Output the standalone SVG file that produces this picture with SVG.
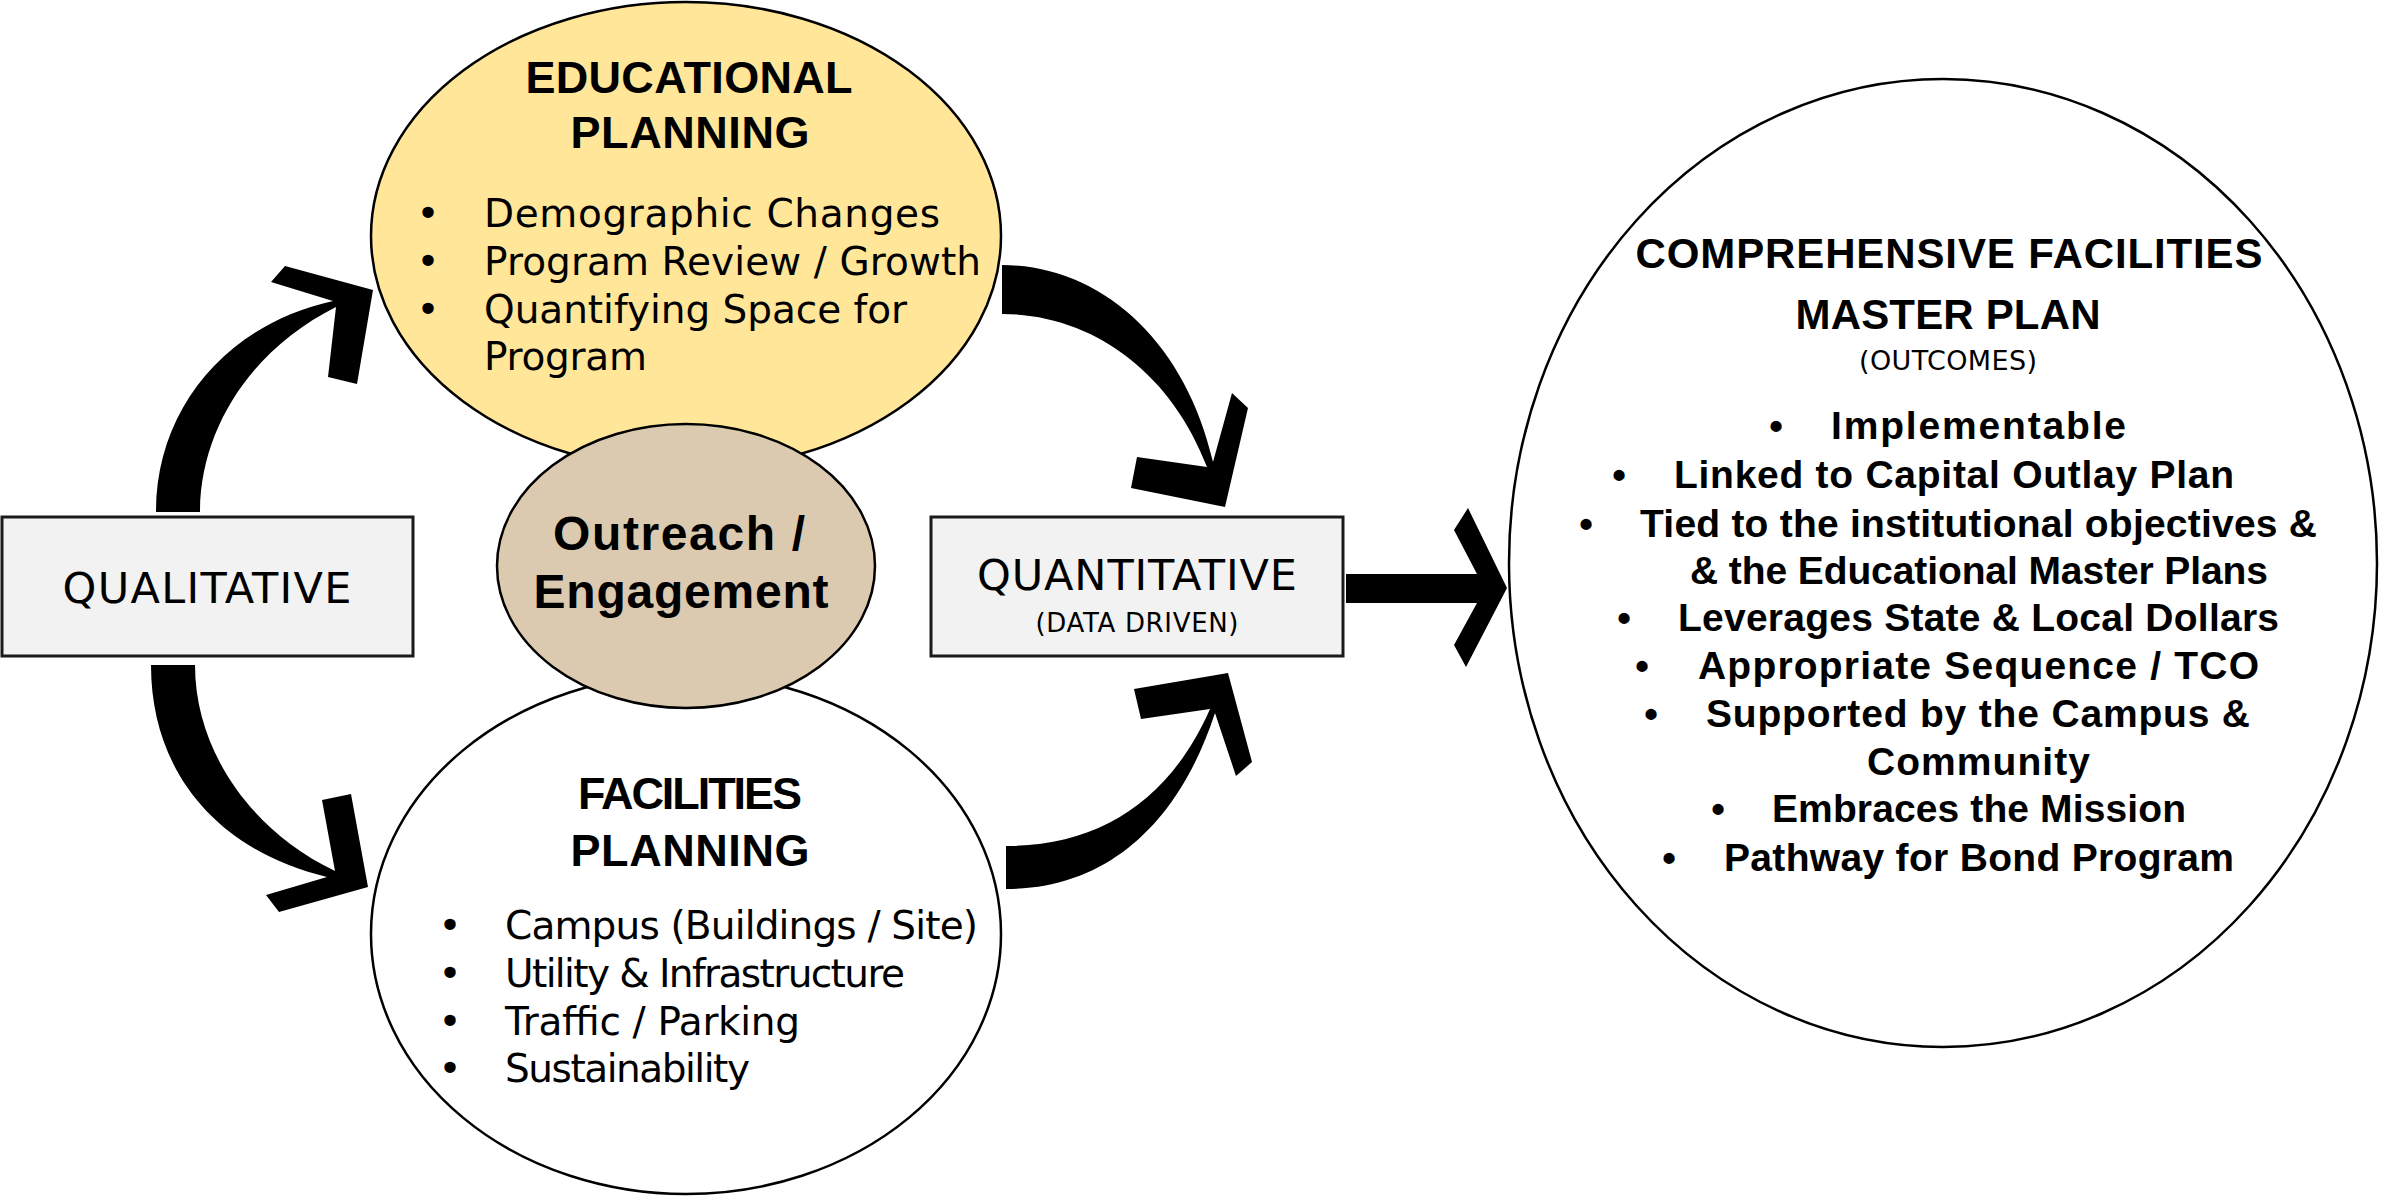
<svg xmlns="http://www.w3.org/2000/svg" width="2382" height="1196" viewBox="0 0 2382 1196">
<style>
.bg{fill:#ffffff}
.ell{stroke:#000;stroke-width:2.5}
.box{fill:#f2f2f2;stroke:#1a1a1a;stroke-width:3}
.reg{font-family:"DejaVu Sans","Liberation Sans",sans-serif;fill:#000}
.bold{font-family:"Liberation Sans",Arial,sans-serif;font-weight:bold;fill:#000}
.arrow{fill:#000;stroke:none}
</style>
<rect class="bg" x="0" y="0" width="2382" height="1196"/>

<g id="educational-planning">
<ellipse class="ell" cx="686" cy="236" rx="315" ry="234" fill="#ffe699"/>
<text class="bold" x="689" y="93" font-size="45" text-anchor="middle" textLength="327">EDUCATIONAL</text>
<text class="bold" x="690" y="148" font-size="45" text-anchor="middle" textLength="239">PLANNING</text>
<g class="reg" font-size="39">
<text x="428" y="227" text-anchor="middle">•</text>
<text x="484" y="227" textLength="456">Demographic Changes</text>
<text x="428" y="275" text-anchor="middle">•</text>
<text x="484" y="275" textLength="497">Program Review / Growth</text>
<text x="428" y="323" text-anchor="middle">•</text>
<text x="484" y="323" textLength="423">Quantifying Space for</text>
<text x="484" y="370" textLength="163">Program</text>
</g>
</g>

<g id="facilities-planning">
<ellipse class="ell" cx="686" cy="934" rx="315" ry="260" fill="#ffffff"/>
<text class="bold" x="690" y="809" font-size="45" text-anchor="middle" textLength="224">FACILITIES</text>
<text class="bold" x="690" y="866" font-size="45" text-anchor="middle" textLength="239">PLANNING</text>
<g class="reg" font-size="39">
<text x="450" y="939" text-anchor="middle">•</text>
<text x="505" y="939" textLength="473">Campus (Buildings / Site)</text>
<text x="450" y="987" text-anchor="middle">•</text>
<text x="505" y="987" textLength="400">Utility &amp; Infrastructure</text>
<text x="450" y="1035" text-anchor="middle">•</text>
<text x="505" y="1035" textLength="295">Traffic / Parking</text>
<text x="450" y="1082" text-anchor="middle">•</text>
<text x="505" y="1082" textLength="245">Sustainability</text>
</g>
</g>

<g id="outreach-engagement">
<ellipse class="ell" cx="686" cy="566" rx="189" ry="142" fill="#dbcab0"/>
<text class="bold" x="679" y="550" font-size="48" text-anchor="middle" textLength="252">Outreach /</text>
<text class="bold" x="681" y="608" font-size="48" text-anchor="middle" textLength="295">Engagement</text>
</g>

<g id="qualitative">
<rect class="box" x="2" y="517" width="411" height="139"/>
<text class="reg" x="207" y="603" font-size="43" text-anchor="middle" textLength="289">QUALITATIVE</text>
</g>

<g id="quantitative">
<rect class="box" x="931" y="517" width="412" height="139"/>
<text class="reg" x="1137" y="590" font-size="43" text-anchor="middle" textLength="320">QUANTITATIVE</text>
<text class="reg" x="1137" y="632" font-size="26" text-anchor="middle" textLength="203">(DATA DRIVEN)</text>
</g>

<g id="master-plan">
<ellipse class="ell" cx="1943" cy="563" rx="434" ry="484" fill="#ffffff"/>
<text class="bold" x="1949" y="268" font-size="42" text-anchor="middle" textLength="627">COMPREHENSIVE FACILITIES</text>
<text class="bold" x="1948" y="329" font-size="42" text-anchor="middle" textLength="305">MASTER PLAN</text>
<text class="reg" x="1948" y="370" font-size="27" text-anchor="middle" textLength="178">(OUTCOMES)</text>
<g class="bold" font-size="39">
<text x="1776" y="439" text-anchor="middle">•</text>
<text x="1831" y="439" textLength="295">Implementable</text>
<text x="1619" y="488" text-anchor="middle">•</text>
<text x="1674" y="488" textLength="560">Linked to Capital Outlay Plan</text>
<text x="1586" y="537" text-anchor="middle">•</text>
<text x="1640" y="537" textLength="677">Tied to the institutional objectives &amp;</text>
<text x="1690" y="584" textLength="578">&amp; the Educational Master Plans</text>
<text x="1624" y="631" text-anchor="middle">•</text>
<text x="1678" y="631" textLength="601">Leverages State &amp; Local Dollars</text>
<text x="1642" y="679" text-anchor="middle">•</text>
<text x="1698" y="679" textLength="561">Appropriate Sequence / TCO</text>
<text x="1651" y="727" text-anchor="middle">•</text>
<text x="1706" y="727" textLength="544">Supported by the Campus &amp;</text>
<text x="1867" y="775" textLength="223">Community</text>
<text x="1718" y="822" text-anchor="middle">•</text>
<text x="1772" y="822" textLength="414">Embraces the Mission</text>
<text x="1669" y="871" text-anchor="middle">•</text>
<text x="1724" y="871" textLength="510">Pathway for Bond Program</text>
</g>
</g>

<g id="connectors">
<path class="arrow" d="M156,512 C156,410 225,325 333,301 L271,282 L285,266 L373,290 L357,384 L328,377 L336,307 C250,350 200,430 200,512 Z"/>
<path class="arrow" d="M151,665 C151,770 215,850 327,877 L266,895 L279,912 L368,887 L351,794 L322,800 L335,871 C250,830 195,750 195,665 Z"/>
<path class="arrow" d="M1002,265 C1100,265 1185,340 1213,462 L1232,393 L1248,408 L1225,507 L1131,488 L1137,457 L1207,467 C1170,370 1090,314 1002,314 Z"/>
<path class="arrow" d="M1006,846 C1100,846 1170,800 1210,709 L1141,719 L1134,689 L1228,673 L1252,762 L1236,776 L1215,713 C1180,820 1110,889 1006,889 Z"/>
<path class="arrow" d="M1346,574 L1477,574 L1454,530 L1468,508 L1507,588 L1466,667 L1454,645 L1477,603 L1346,603 Z"/>
</g>
</svg>
